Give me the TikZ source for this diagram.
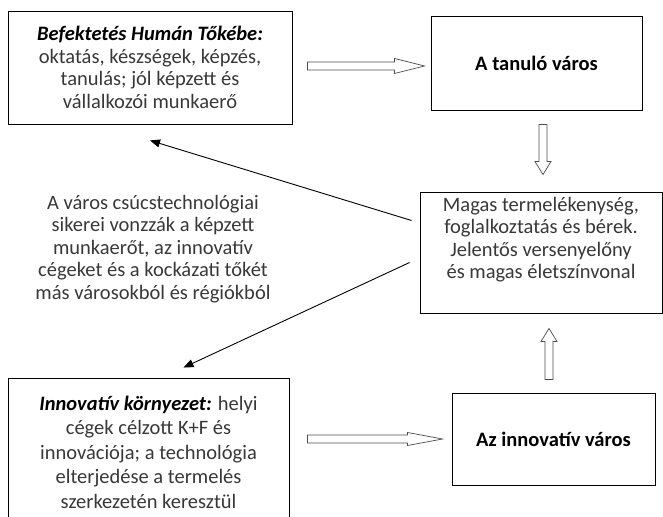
\documentclass[tikz,border=0pt]{standalone}
\usepackage{fontspec}
\setmainfont{Carlito}
\usetikzlibrary{arrows.meta,calc}
\tikzset{font=\fontsize{20.5}{22.5}\selectfont}
\tikzset{box/.style={draw, line width=0.9pt, inner sep=0pt, align=center, text=black!78},
  bigarrow/.style={line width=0.7pt, black!70},
  thinarrow/.style={line width=0.9pt, -{Triangle[length=10pt,width=8pt]}}}

% hollow block arrow: from, to, head length, head half width
\newcommand{\hollowarrow}[4]{%
  \draw[bigarrow] let \p1=(#1), \p2=(#2),
    \n1={atan2(\y2-\y1,\x2-\x1)}, \n2={veclen(\x2-\x1,\y2-\y1)} in
    [shift={(\p1)}, rotate=\n1]
    (0pt,-4pt) -- ({(\n2-#3)*1pt},-4pt) -- ({(\n2-#3)*1pt},-#4pt) -- ({\n2*1pt},0pt)
    -- ({(\n2-#3)*1pt},#4pt) -- ({(\n2-#3)*1pt},4pt) -- (0pt,4pt) -- cycle;}

\begin{document}
\begin{tikzpicture}[x=1pt,y=-1pt]
  \useasboundingbox (0,0) rectangle (663,516);
  \clip (0,0) rectangle (663,516);

  \node[box, minimum width=284pt, minimum height=113pt] (capital) at (150,67.5)
    {\textcolor{black}{\textbf{\textit{Befektetés Humán Tőkébe:}}}\\
     oktatás, készségek, képzés,\\ tanulás; jól képzett és\\ vállalkozói munkaerő};
  \node[box, minimum width=211pt, minimum height=94pt, text=black] (learning) at (536.5,63)
    {\textbf{A tanuló város}};
  \node[box, minimum width=242pt, minimum height=121pt] (growth) at (541,252.5) {};
  \node[align=center, text=black!78] (growthtext) at ($(growth.center)+(0,-13)$)
    {Magas termelékenység,\\ foglalkoztatás és bérek.\\ Jelentős versenyelőny\\ és magas életszínvonal};
  \node[box, minimum width=203pt, minimum height=92pt, text=black] (innocity) at (553.5,439)
    {\textbf{Az innovatív város}};
  \node[box, minimum width=281pt, minimum height=152pt] (milieu) at (148.5,454) {};
  \node[align=center, text=black!78, font=\fontsize{20.5}{24.5}\selectfont] (milieutext)
    at ($(milieu.center)+(0,-2)$)
    {\textcolor{black}{\textbf{\textit{Innovatív környezet:}}} helyi\\
     cégek célzott K+F és\\ innovációja; a technológia\\ elterjedése a termelés\\ szerkezetén keresztül};

  \node[align=center, text=black!78] (attract) at (153,249)
    {A város csúcstechnológiai\\ sikerei vonzzák a képzett\\ munkaerőt, az innovatív\\
     cégeket és a kockázati tőkét\\ más városokból és régiókból};

  % block arrows
  \hollowarrow{$(capital.east)+(15,-1.5)$}{$(learning.west)+(-6,3)$}{30}{7.5}
  \hollowarrow{$(learning.south)+(6.5,14)$}{$(growth.north)+(2,-17)$}{13}{8}
  \hollowarrow{$(innocity.north)+(-4.5,-13)$}{$(growth.south)+(8,15)$}{13}{8}
  \hollowarrow{$(milieu.east |- innocity.west)+(18,0)$}{$(innocity.west)+(-9,0)$}{35}{6.5}

  % thin arrows back to the left
  \coordinate (tailA) at ($(growth.west)+(-8,-32)$);
  \coordinate (tipA) at ($(capital.south)+(0,16)$);
  \coordinate (tailB) at ($(growth.west)+(-10,10)$);
  \coordinate (tipB) at ($(milieu.north)+(35,-10)$);
  \draw[thinarrow] (tailA) -- (tipA);
  \draw[thinarrow] (tailB) -- (tipB);
\end{tikzpicture}
\end{document}
